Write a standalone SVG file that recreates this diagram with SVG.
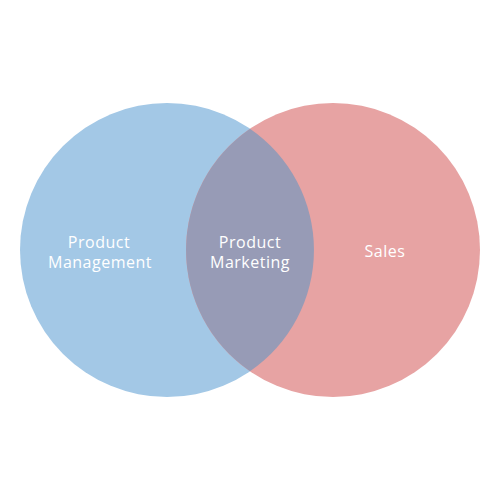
<svg xmlns="http://www.w3.org/2000/svg" width="500" height="500" viewBox="0 0 500 500">
<style>
text{font-family:"Open Sans",Lato,"Liberation Sans",sans-serif;font-size:16px;fill:#ffffff;text-anchor:middle;letter-spacing:0.5px}
</style>
<rect width="500" height="500" fill="#ffffff"/>
<g id="product-management">
<circle cx="167" cy="250" r="147" fill="#a3c8e6"/>
<text x="99" y="248">Product</text>
<text x="100" y="268">Management</text>
</g>
<g id="sales">
<circle cx="333" cy="250" r="147" fill="#e7a3a3"/>
<text x="385" y="257">Sales</text>
</g>
<g id="product-marketing">
<path d="M250,128.7 A147,147 0 0 1 250,371.3 A147,147 0 0 1 250,128.7 Z" fill="#979bb6"/>
<text x="250" y="248">Product</text>
<text x="250" y="268">Marketing</text>
</g>
<g id="connectors"/>
</svg>
